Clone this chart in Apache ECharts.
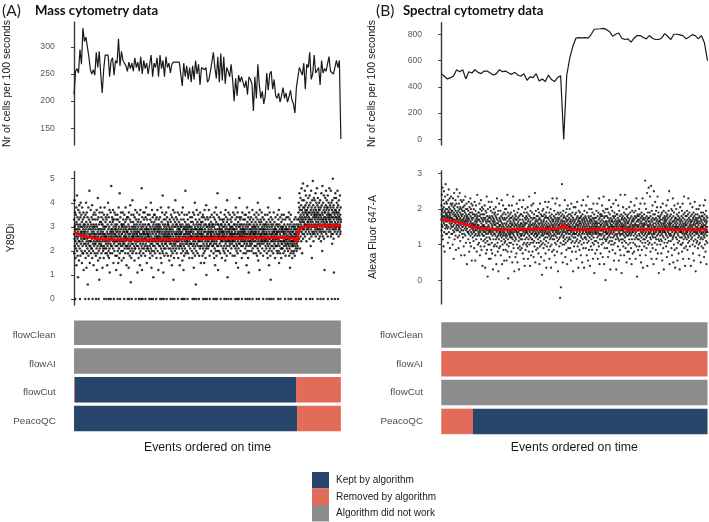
<!DOCTYPE html>
<html><head><meta charset="utf-8">
<script src="https://cdn.jsdelivr.net/npm/echarts@6/dist/echarts.min.js"></script>
<style>html,body{margin:0;padding:0;background:#fff}#c{width:709px;height:522px}</style>
</head><body><div id="c"></div><script>
// ---------- DATA ----------
// Top panels: number of cells per 100 seconds (events ordered on time)
const cellsA = [212,255,260,252,295,268,335,310,318,300,
282,258,250,258,248,290,262,292,250,215,
258,285,287,285,245,275,280,248,275,270,
315,265,292,275,270,265,255,272,260,270,
255,280,262,272,255,282,250,275,260,270,
250,268,285,245,270,262,280,245,285,260,
275,245,282,262,270,252,268,272,270,272,
273,272,274,228,270,245,265,240,262,235,
265,240,275,250,268,230,262,260,258,262,
235,240,255,258,290,262,242,282,235,288,
238,282,232,262,255,245,268,238,200,242,
210,248,235,245,242,225,238,212,245,240,
232,182,245,205,268,230,205,218,195,210,
252,220,250,255,222,240,210,205,215,198,
210,225,205,215,198,208,220,202,195,178,
225,228,262,255,248,270,222,268,262,290,
240,250,285,252,255,262,230,275,252,260,
255,258,282,255,255,250,248,275,262,275,130];
const cellsB = [500,480,460,470,482,530,515,530,460,515,505,530,510,500,520,520,505,490,500,530,
515,520,505,495,510,490,480,500,450,475,470,500,445,460,440,490,455,440,470,485,
0,490,620,710,770,775,772,775,770,800,838,840,842,845,835,820,785,800,810,770,
760,765,740,770,790,790,775,765,790,770,760,760,770,805,785,760,800,800,795,790,
765,780,797,790,765,790,735,600];

// Middle panels: per-event intensities, one string per block of consecutive events.
// Mass: code = Y89Di x 10.  Spectral: code = (Alexa Fluor 647-A + 0.5) x 20
const eventsA = [
"27 33 19 41 25 30 22 36 28 00 24 31 17 29 35 21 26 38 14 32 27 23 43 20 29 34 25 18 31 26 09 28 37 22 30 24 33 16 27 39 29 24 36 21 00 31 27 34 18 26 40 23 30 28 25 35 20 28 32 15 27 38 24 30 22 19 33 26 19 29 36 25 12 31 28 23 34 27 26 30",
"25 31 20 28 00 35 23 17 29 26 40 22 32 13 27 24 36 19 30 25 21 34 28 06 26 31 23 38 18 29 00 24 33 20 27 45 22 30 15 26 26 32 24 22 29 37 24 19 31 27 21 34 21 28 25 39 17 30 26 00 33 23 29 20 35 27 14 31 24 28 30 22 36 26 30 19 27 33 23 25",
"23 29 35 18 26 00 31 24 21 37 27 12 30 25 19 33 22 28 42 24 16 29 26 34 00 20 27 31 23 08 25 36 21 29 17 32 24 27 38 22 28 25 23 32 26 19 34 25 31 29 22 36 27 13 31 24 28 21 20 33 26 30 17 27 35 22 00 29 25 38 21 30 24 26 27 32 19 26 34 23",
"30 21 26 00 33 19 24 28 14 35 25 22 31 27 18 40 23 29 20 34 26 00 17 30 24 37 21 27 11 32 25 19 28 23 36 00 26 22 29 47 25 31 28 27 22 34 19 29 26 33 32 24 37 21 28 15 30 25 00 33 23 27 20 36 26 24 29 24 31 18 27 35 22 29 30 26 12 28 33 24",
"24 18 31 26 22 35 00 28 20 33 25 15 29 23 38 27 21 30 17 26 32 24 44 19 28 00 23 34 26 10 29 22 36 25 20 31 27 16 24 30 27 31 22 30 25 36 20 28 23 33 24 29 17 31 26 00 23 35 28 21 30 26 25 32 19 27 38 24 22 29 22 33 26 14 30 25 28 28 34 21",
"28 22 00 25 34 19 27 31 23 13 29 36 21 26 00 30 24 18 33 27 22 39 25 20 29 07 32 24 17 28 35 23 26 00 21 30 25 41 19 27 23 29 26 32 26 20 35 25 30 28 22 31 27 16 34 24 21 29 21 37 26 30 00 23 28 33 19 25 31 27 27 22 36 24 29 11 26 24 32 28",
"22 30 26 17 33 24 00 28 21 35 25 19 31 27 14 29 23 37 20 26 32 00 24 18 30 27 22 46 25 12 29 34 21 26 00 31 23 28 19 36 30 24 27 27 33 21 28 25 25 36 22 29 18 31 26 00 34 23 27 20 38 29 25 30 24 15 28 33 21 22 29 26 35 27 21 27 31 24 26 29",
"26 20 31 24 00 28 35 22 17 30 25 33 19 27 23 40 21 29 00 26 13 32 24 20 37 28 23 18 30 25 34 00 22 27 09 31 24 29 20 35 25 32 29 28 22 35 26 19 30 24 24 29 33 21 27 00 31 25 17 34 23 26 28 30 26 37 20 29 25 31 23 28 12 24 33 26 22 29 30 27",
"31 25 19 28 34 22 00 26 30 17 24 38 21 29 25 15 32 27 00 23 36 20 28 24 43 19 26 31 22 11 29 25 33 00 27 21 30 18 26 35 28 23 24 31 26 21 33 29 27 23 36 25 19 30 00 28 24 34 22 26 29 26 32 18 31 27 31 24 38 21 25 28 25 30 16 27 26 33 23 29",
"24 29 21 00 32 26 18 35 23 28 20 30 25 14 34 27 22 00 29 19 31 24 37 26 21 08 28 33 23 17 30 25 00 36 22 27 20 32 24 41 23 30 27 26 34 21 28 31 25 31 19 27 24 33 24 29 22 36 00 26 30 17 28 25 24 32 27 21 29 35 25 29 14 26 22 31 23 28 30 27",
"27 22 33 19 25 30 00 24 36 21 28 16 31 26 23 38 00 20 29 25 12 33 27 22 30 18 26 35 24 00 29 21 32 27 45 23 19 30 25 28 26 29 31 24 28 20 35 24 27 23 30 00 25 33 19 29 27 26 31 22 25 28 36 24 17 30 30 25 27 23 21 34 26 28 29 23 32 26 25 28",
"23 30 26 20 34 25 17 29 00 32 22 27 36 24 19 28 31 13 26 23 00 35 21 29 25 40 18 30 24 27 22 33 06 26 29 20 00 31 25 37 29 23 26 27 32 25 19 28 30 26 35 22 24 28 24 31 00 18 27 33 25 29 29 21 36 26 22 24 30 27 15 31 32 25 28 27 22 29 34 26",
"29 24 18 32 26 35 21 00 27 30 23 19 34 25 28 15 31 22 37 26 20 29 00 24 33 17 28 25 31 21 39 26 10 30 23 00 27 34 22 25 24 30 28 26 21 33 27 25 29 24 37 22 31 28 31 25 18 00 30 26 34 23 23 28 25 27 32 20 27 29 26 24 35 26 30 22 31 28 24 25",
"25 31 22 28 00 19 34 26 23 30 17 27 36 24 21 29 33 14 26 00 31 25 20 38 28 23 32 18 27 24 00 35 22 29 26 44 20 31 25 12 27 22 31 26 25 34 28 20 29 30 26 23 33 25 27 19 29 25 00 36 24 28 31 22 31 26 24 29 17 33 25 28 27 30 24 26 21 28 32 26",
"28 20 33 25 30 22 00 27 35 19 26 31 24 16 29 37 23 28 21 34 00 26 30 24 18 32 27 41 22 29 09 25 33 20 28 24 36 00 26 31 25 31 24 29 28 22 35 27 23 30 19 26 33 27 24 29 27 00 21 32 25 30 28 34 23 26 26 30 18 24 27 24 36 29 29 25 22 27 31 27",
"22 29 35 26 18 31 24 28 00 33 21 27 38 25 15 30 23 29 20 34 26 22 00 31 27 19 36 24 28 13 32 25 21 30 00 27 23 34 26 42 28 23 30 26 31 33 25 20 29 24 27 34 22 28 26 25 31 17 00 29 26 36 24 28 30 22 27 25 33 25 19 29 28 31 26 24 23 29 35 27",
"26 33 21 28 24 00 30 19 35 25 27 22 31 14 29 23 38 26 20 32 00 27 24 30 17 34 25 28 22 11 31 26 36 20 29 24 00 33 27 23 24 31 27 26 22 29 34 25 28 28 20 32 26 23 30 24 37 00 27 21 29 25 25 33 28 30 19 31 26 27 24 35 27 22 30 22 28 29 26 32",
"24 30 27 19 34 22 28 36 25 00 31 18 26 29 23 33 21 40 27 24 16 30 25 35 20 28 00 32 23 26 12 29 37 22 27 31 24 19 33 26 29 25 27 32 23 27 36 24 26 30 21 28 25 34 24 29 18 00 31 26 23 29 28 33 25 27 20 30 27 24 24 35 26 31 29 22 31 25 27 24",
"21 28 32 25 00 19 30 26 23 35 27 17 29 24 38 22 31 26 20 33 25 14 28 00 30 23 36 21 27 25 32 18 29 08 26 34 24 00 31 22 26 20 30 24 27 28 33 22 27 25 25 31 19 29 00 24 36 26 21 28 28 23 32 25 26 30 17 29 27 24 34 22 22 29 25 26 31 27 20 28",
"27 22 31 25 35 19 28 24 30 00 23 33 26 20 37 28 15 25 31 22 29 42 24 27 19 34 00 26 30 21 28 24 17 32 26 23 35 29 21 30 23 29 21 33 26 28 24 30 19 28 25 27 35 22 27 31 24 24 20 29 26 00 33 23 28 18 25 25 30 22 29 27 34 24 26 21 29 26 23 25",
"25 31 23 28 20 34 26 00 29 22 36 24 18 30 27 21 33 25 13 28 23 31 26 19 35 24 00 29 27 22 32 20 26 30 24 17 28 23 22 24 28 22 30 19 26 25 31 24 20 29 33 27 23 27 18 30 25 29 22 34 26 21 00 28 24 31 26 20 27 23 24 29 25 33 21 22 26 30 27 24",
"31 36 27 40 00 33 25 38 30 44 28 34 21 37 32 29 42 26 35 31 00 39 24 33 46 30 28 37 34 19 32 41 27 36 30 48 25 33 38 29 35 29 41 32 27 38 31 34 30 45 26 36 31 37 39 33 28 43 30 00 36 24 34 40 29 35 37 31 47 27 35 32 32 38 29 42 30 33 36 30",
"34 28 39 31 25 43 30 36 00 33 27 40 32 22 37 29 45 31 35 26 38 33 17 30 41 28 36 00 32 49 27 34 39 30 24 37 31 42 28 35 30 36 27 41 33 34 38 29 35 44 31 26 30 37 32 40 28 34 36 30 46 35 29 39 00 33 27 42 31 36 32 29 38 34 25 37 40 31 35 28",
"30 37 26 33 41 29 35 00 31 38 24 34 28 44 32 27 39 30 36 20 33 47 29 35 31 26 40 33 00 28 37 32 43 25 34 30 38 12 31 36 36 31 42 28 34 33 39 30 45 33 27 37 32 32 41 29 35 38 31 38 26 43 00 34 30 36 30 28 40 33 35 37 31 46 29 34 35 32 39 30",
"33 28 38 31 45 26 35 30 40 27 34 00 32 37 23 41 29 36 31 50 27 34 38 30 25 39 33 11 36 29 42 31 35 28 00 37 32 44 30 34 31 37 29 42 34 36 30 36 27 40 33 31 38 31 45 28 35 00 32 39 30 34 26 36 41 33 29 29 37 34 30 31 43 30 27 35 28 38 32 33"];
const eventsB = [
"44 52 38 47 58 41 49 35 45 62 40 50 33 46 55 43 48 29 51 42 60 37 46 53 44 26 49 41 57 45 39 48 64 43 50 36 47 54 40 46 47 41 53 36 45 50 39 58 43 48 31 46 55 40 49 44 61 37 51 45 34 48 42 56 47 28 50 43 46 39 53 45 41 57 48 36 44 52 40 49",
"42 49 36 45 53 30 47 40 56 44 38 51 43 22 48 41 59 37 46 50 33 44 52 39 47 42 55 35 49 43 27 46 40 53 38 45 61 41 48 44 45 39 51 34 47 43 57 38 49 41 28 46 53 40 44 35 50 42 59 37 48 45 32 51 43 39 55 41 47 24 44 50 38 46 42 54 36 49 43 40",
"40 47 34 44 51 38 42 55 29 45 41 49 36 43 52 24 46 39 48 42 57 35 44 40 50 31 43 38 47 53 41 45 19 39 46 42 50 37 44 41 43 37 49 33 45 41 54 36 47 40 26 44 51 38 42 31 48 40 56 35 46 43 29 50 41 37 53 39 45 21 42 48 36 44 40 52 34 47 41 38",
"39 45 32 42 50 37 41 28 47 40 54 35 43 38 46 21 41 49 36 44 39 52 33 42 47 40 26 45 38 43 58 35 41 46 39 30 44 40 48 37 41 36 48 31 44 39 53 35 46 38 24 43 50 37 40 29 47 39 55 33 45 42 27 49 40 36 51 38 44 18 41 47 35 43 39 50 32 45 40 37",
"41 35 47 29 38 44 52 33 40 17 45 37 31 49 39 43 25 36 48 42 34 57 38 27 46 40 32 44 12 39 50 36 43 30 41 37 54 45 22 38 40 34 46 30 43 38 51 33 45 37 22 42 49 36 39 27 44 38 54 31 41 46 25 40 35 48 37 43 16 39 45 33 42 38 50 29 44 36 41 47",
"36 43 30 48 39 24 41 35 46 51 33 38 42 19 45 37 29 40 56 34 44 39 31 47 26 42 38 35 49 15 43 36 40 33 53 28 41 45 37 39 37 44 29 41 35 49 38 24 43 36 46 32 40 55 34 42 19 39 45 37 30 47 41 35 52 38 27 44 36 40 33 48 21 42 37 45 31 39 50 35",
"44 32 39 47 27 41 36 50 34 42 21 38 45 30 40 35 58 43 26 37 48 33 39 11 46 41 29 36 52 38 44 31 40 23 47 35 42 37 34 45 43 36 40 31 48 38 26 45 41 34 52 37 42 20 39 46 33 41 36 57 30 44 38 28 43 35 49 40 15 37 45 32 42 39 47 34 23 41 38 44",
"38 46 33 41 25 44 37 53 30 40 36 48 20 42 35 39 45 28 43 37 50 32 41 16 38 46 34 40 55 29 44 36 39 27 47 41 33 42 38 35 39 47 35 42 28 40 36 51 33 44 38 25 46 41 30 39 55 37 43 22 40 35 48 31 42 38 18 45 36 41 33 50 39 27 44 37 42 30 46 38",
"42 34 48 37 29 45 39 31 51 36 43 22 40 47 33 38 44 26 41 35 57 39 30 46 37 42 18 40 34 49 43 31 38 45 24 41 36 52 39 33 36 41 48 33 39 26 44 37 42 31 53 38 45 23 40 35 47 32 41 38 29 45 36 59 39 42 20 43 37 34 49 40 27 44 36 41 31 46 38 35",
"35 43 39 28 46 40 33 50 37 42 25 44 36 31 48 39 41 19 45 34 38 53 29 42 37 44 32 40 47 23 39 35 43 30 46 38 13 41 36 49 42 37 31 46 40 35 50 28 43 38 44 33 21 41 47 36 39 30 45 37 54 34 42 25 40 46 38 32 48 17 43 36 41 29 45 39 34 51 37 40",
"40 36 45 31 42 38 54 27 44 35 39 48 22 41 37 33 46 40 29 43 36 50 34 39 17 45 38 42 30 47 35 41 26 44 39 56 33 40 37 43 38 44 35 41 27 46 39 33 49 36 42 24 40 45 31 38 53 35 43 20 41 37 47 30 44 39 34 56 38 26 42 36 45 32 40 48 15 43 37 41",
"38 44 33 47 41 36 29 45 39 52 34 42 00 40 37 48 31 43 06 39 46 35 41 25 44 38 64 36 42 30 47 40 20 43 37 34 49 39 45 32 41 35 46 38 30 43 40 55 33 42 37 23 45 39 48 31 41 36 44 27 40 50 34 43 38 19 46 37 41 32 52 39 44 28 42 36 47 33 40 38",
"39 45 34 41 50 36 43 28 40 47 33 38 44 21 42 37 53 31 40 46 35 39 26 43 38 48 32 41 36 45 15 39 44 34 51 37 42 29 40 36 36 43 39 31 47 40 34 51 38 44 26 41 36 48 32 42 22 45 39 37 54 33 41 46 29 40 35 43 38 17 44 39 31 49 41 36 45 27 42 38",
"43 37 48 32 40 45 35 42 24 39 46 34 41 52 30 38 44 36 20 43 39 47 33 40 37 55 28 42 38 45 31 41 17 44 36 49 39 34 43 38 40 46 34 42 38 28 45 37 52 33 41 39 24 44 36 48 31 40 43 35 57 38 21 42 37 46 32 41 39 27 45 36 50 34 43 40 18 38 44 37",
"36 42 39 29 46 38 44 33 50 40 35 43 27 41 37 48 31 39 45 22 42 36 53 34 40 44 30 38 47 14 41 37 43 32 45 39 25 42 36 40 42 37 45 32 40 49 36 43 27 41 38 53 34 39 46 22 42 37 31 48 40 35 44 29 39 56 36 42 19 45 38 33 47 40 36 43 25 41 38 46",
"41 35 47 38 30 44 39 52 33 42 36 46 23 40 38 49 31 43 37 57 34 41 19 45 39 35 48 28 42 40 33 46 37 10 43 38 50 32 41 36 37 43 33 46 39 28 42 36 50 34 41 45 23 40 37 48 31 43 39 35 55 38 26 44 40 32 47 36 42 16 39 45 34 41 37 51 30 43 38 40",
"38 44 32 41 49 36 43 27 40 46 34 39 53 30 42 37 45 21 40 35 48 38 43 31 46 39 25 41 36 44 33 55 38 42 16 40 47 35 39 43 41 36 47 34 39 45 29 42 38 52 33 40 44 21 43 37 49 32 41 36 46 27 39 43 35 58 38 24 42 40 33 47 36 44 14 41 38 45 31 40",
"42 36 46 33 40 51 38 29 44 37 41 35 48 24 43 39 32 45 40 58 34 42 37 47 28 41 36 44 31 39 50 20 43 38 35 46 40 26 42 37 39 45 35 42 30 47 38 43 26 40 36 51 33 44 39 22 41 37 48 31 45 40 35 54 38 28 42 36 46 19 43 39 33 49 41 37 44 25 40 38",
"37 43 31 45 39 35 48 41 26 44 38 52 33 40 46 30 42 36 49 22 41 37 45 34 39 56 29 43 38 41 12 46 35 40 33 47 38 44 27 40 43 38 46 33 41 36 50 29 44 39 35 47 24 42 38 53 32 40 45 37 20 43 39 34 48 41 27 46 36 42 31 56 38 44 17 40 37 45 33 41",
"40 35 47 42 29 44 38 53 33 41 36 66 31 45 39 24 43 37 50 34 42 28 46 39 35 59 41 18 44 38 32 48 40 36 45 30 43 62 37 41 40 45 36 43 31 48 39 57 34 42 37 26 46 41 33 63 38 44 22 40 36 49 30 43 39 35 52 28 45 38 41 34 47 19 42 37 60 40 36 44",
"36 44 39 31 47 40 54 34 42 38 27 45 37 49 33 41 22 43 39 35 51 30 44 38 57 40 25 46 36 42 33 48 39 14 43 37 41 32 45 38 38 43 35 46 40 30 44 37 51 33 42 39 25 47 36 41 32 48 38 21 44 40 35 53 37 42 28 45 39 34 49 16 41 38 43 31 46 37 40 44",
"42 37 45 33 40 48 36 43 29 41 52 35 39 46 23 44 38 31 47 40 55 34 42 37 26 45 39 49 32 41 36 60 38 43 19 40 46 35 42 39 41 36 44 32 47 39 35 50 28 42 38 45 24 40 37 49 33 43 39 56 34 41 20 46 38 35 43 30 48 40 36 52 27 44 39 42 17 37 45 40",
"38 45 34 41 50 37 43 28 40 47 33 39 44 21 42 36 53 31 40 46 35 38 25 44 39 48 32 41 37 45 16 39 43 34 51 38 42 30 40 37 37 44 39 30 46 41 34 49 26 43 38 36 53 31 40 45 22 42 37 47 33 41 39 57 35 28 44 40 36 48 18 42 38 34 46 39 43 29 41 37",
"41 36 46 33 39 49 37 44 27 42 38 35 47 31 40 56 34 43 38 22 45 39 32 48 41 36 44 29 40 53 37 42 35 46 18 39 43 33 41 38 43 38 47 34 40 36 51 30 44 39 25 45 41 37 48 32 42 21 39 46 35 43 38 54 29 41 37 44 33 47 15 40 45 36 42 38 50 31 39 43",
"37 44 32 40 47 36 42 28 39 45 34 41 50 30 38 43 35 24 46 39 37 52 31 42 38 45 33 40 20 44 36 48 39 34 43 29 41 37 46 40 39 46 36 42 33 48 40 28 44 37 52 35 41 23 45 39 34 47 38 43 30 55 36 41 26 44 40 37 49 32 42 19 46 38 35 43 40 31 45 37"];

// Running median (red line): [fraction of events, value]
const medianA = [[0,2.78],[0.02,2.68],[0.04,2.6],[0.06,2.56],[0.08,2.52],[0.1,2.5],[0.12,2.48],[0.15,2.46],[0.18,2.47],[0.2,2.44],[0.23,2.47],[0.25,2.44],[0.28,2.46],[0.3,2.44],[0.33,2.47],[0.35,2.45],[0.38,2.48],[0.4,2.47],[0.42,2.52],[0.44,2.5],[0.47,2.52],[0.5,2.5],[0.53,2.53],[0.56,2.51],[0.6,2.53],[0.63,2.52],[0.66,2.55],[0.69,2.53],[0.72,2.57],[0.75,2.55],[0.78,2.56],[0.81,2.54],[0.83,2.5],[0.835,2.36],[0.84,2.78],[0.845,2.92],[0.86,2.98],[0.88,3.05],[0.9,3.03],[0.93,3.06],[0.96,3.04],[0.98,3.07],[1,3.02]];
const medianB = [[0,1.72],[0.03,1.68],[0.06,1.63],[0.09,1.57],[0.12,1.5],[0.15,1.46],[0.18,1.44],[0.21,1.43],[0.25,1.42],[0.29,1.44],[0.33,1.43],[0.37,1.45],[0.41,1.44],[0.45,1.46],[0.46,1.58],[0.47,1.46],[0.5,1.42],[0.53,1.43],[0.57,1.41],[0.61,1.44],[0.64,1.42],[0.68,1.45],[0.72,1.41],[0.76,1.43],[0.8,1.42],[0.84,1.44],[0.88,1.41],[0.92,1.43],[0.96,1.42],[1,1.44]];

// Bottom panels: algorithm decisions along the event order [status, fraction]
const algorithms = ['flowClean','flowAI','flowCut','PeacoQC'];
const decisionsA = {flowClean:[['none',1]], flowAI:[['none',1]], flowCut:[['removed',0.003],['kept',0.829],['removed',0.168]], PeacoQC:[['kept',0.836],['removed',0.164]]};
const decisionsB = {flowClean:[['none',1]], flowAI:[['removed',1]], flowCut:[['none',1]], PeacoQC:[['removed',0.119],['kept',0.881]]};
const statusNames = {kept:'Kept by algorithm', removed:'Removed by algorithm', none:'Algorithm did not work'};
const statusColors = {kept:'#27456b', removed:'#e26b5a', none:'#8c8c8c'};

const ticksTopA = [150,200,250,300], ticksMidA = [0,1,2,3,4,5];
const ticksTopB = [0,200,400,600,800], ticksMidB = [0,1,2,3];

// ---------- BUILD ----------
const FONT = 'Liberation Sans, Arial, sans-serif';
const decodeA = eventsA.join(' ').trim().split(/\s+/).map(s => Number(s) / 10);
const decodeB = eventsB.join(' ').trim().split(/\s+/).map(s => Number(s) / 20 - 0.5);
const ordered = arr => arr.map((v, i) => [i / (arr.length - 1), v]);

// panel A spans the full expanded range; panel B is cut at the right edge of the figure
const grids = [
  {left:60.7, top:22, width:293.5, height:123},
  {left:60.7, top:171.5, width:293.5, height:133.5},
  {left:60.7, top:320.6, width:293.5, height:115.2},
  {left:428, top:22.7, width:281, height:122.3},
  {left:428, top:171, width:281, height:133},
  {left:428, top:320.6, width:281, height:115.2}
];
const xMaxA = 1.05, xMaxB = 1.0056;
const xAxes = grids.map((g, i) => ({type:'value', gridIndex:i, min:-0.05, max: i < 3 ? xMaxA : xMaxB, show:false}));
function valAxis(i, min, max, ticks) {
  return {type:'value', gridIndex:i, min:min, max:max,
    axisLine:{show:true, lineStyle:{color:'#3a3a3a', width:1.4}},
    axisTick:{show:true, length:3, customValues:ticks, lineStyle:{color:'#3a3a3a', width:1}},
    axisLabel:{customValues:ticks, margin:6, fontFamily:FONT, fontSize:8.6, color:'#5a5a5a'},
    splitLine:{show:false}};
}
function catAxis(i) {
  return {type:'category', gridIndex:i, data:algorithms, inverse:true,
    axisLine:{show:false}, axisTick:{show:false},
    axisLabel:{margin:5, fontFamily:FONT, fontSize:9.8, color:'#4d4d4d'}};
}
const yAxes = [valAxis(0,119,346,ticksTopA), valAxis(1,-0.25,5.3,ticksMidA), catAxis(2),
               valAxis(3,-43,888,ticksTopB), valAxis(4,-0.67,3.07,ticksMidB), catAxis(5)];

const series = [];
series.push({type:'line', xAxisIndex:0, yAxisIndex:0, data:ordered(cellsA), symbol:'none', lineStyle:{color:'#1a1a1a', width:1.2}});
series.push({type:'line', xAxisIndex:3, yAxisIndex:3, data:ordered(cellsB), symbol:'none', lineStyle:{color:'#1a1a1a', width:1.2}});
series.push({type:'scatter', xAxisIndex:1, yAxisIndex:1, data:ordered(decodeA), symbolSize:2.5, itemStyle:{color:'#000'}, large:false});
series.push({type:'scatter', xAxisIndex:4, yAxisIndex:4, data:ordered(decodeB), symbolSize:2.3, itemStyle:{color:'#000'}, large:false});
series.push({type:'line', xAxisIndex:1, yAxisIndex:1, data:medianA, symbol:'none', z:5, lineStyle:{color:'#ff0000', width:2.6}});
series.push({type:'line', xAxisIndex:4, yAxisIndex:4, data:medianB, symbol:'none', z:5, lineStyle:{color:'#ff0000', width:2.6}});

function addBars(decisions, axisIdx, stackName) {
  const maxSeg = Math.max(...algorithms.map(a => decisions[a].length));
  for (let s = 0; s < maxSeg; s++) {
    series.push({type:'bar', xAxisIndex:axisIdx, yAxisIndex:axisIdx, stack:stackName, barWidth:25.5,
      data: algorithms.map(a => {
        const seg = decisions[a][s];
        return seg ? {value:seg[1], itemStyle:{color:statusColors[seg[0]]}} : '-';
      })});
  }
}
addBars(decisionsA, 2, 'A');
addBars(decisionsB, 5, 'B');
// legend entries
['kept','removed','none'].forEach(k => series.push({type:'bar', name:statusNames[k], xAxisIndex:2, yAxisIndex:2, data:[], itemStyle:{color:statusColors[k]}}));

function vtext(x, y, t, size) {
  return {type:'text', x:x, y:y, rotation:Math.PI/2, silent:true,
    style:{text:t, fontFamily:FONT, fontSize:size, fill:'#1a1a1a', align:'center', verticalAlign:'middle'}};
}
function htext(x, y, t, size) {
  return {type:'text', x:x, y:y, silent:true,
    style:{text:t, fontFamily:FONT, fontSize:size, fill:'#1a1a1a', align:'center', verticalAlign:'middle'}};
}
const graphic = [
  {type:'text', x:2, y:11, style:{text:'(A)', fontFamily:'Lato, sans-serif', fontSize:15.5, fill:'#1a1a1a', verticalAlign:'middle'}},
  {type:'text', x:35, y:11, style:{text:'Mass cytometry data', fontFamily:'Lato, sans-serif', fontWeight:'bold', fontSize:13.2, fill:'#111', verticalAlign:'middle'}},
  {type:'text', x:376, y:11, style:{text:'(B)', fontFamily:'Lato, sans-serif', fontSize:15.5, fill:'#1a1a1a', verticalAlign:'middle'}},
  {type:'text', x:403, y:11, style:{text:'Spectral cytometry data', fontFamily:'Lato, sans-serif', fontWeight:'bold', fontSize:13.2, fill:'#111', verticalAlign:'middle'}},
  vtext(7, 83.5, 'Nr of cells per 100 seconds', 10.5),
  vtext(372, 83.5, 'Nr of cells per 100 seconds', 10.5),
  vtext(11, 238, 'Y89Di', 10.5),
  vtext(373, 237, 'Alexa Fluor 647-A', 10.5),
  htext(207.5, 448, 'Events ordered on time', 12.3),
  htext(574.3, 448, 'Events ordered on time', 12.3)
];

const chart = echarts.init(document.getElementById('c'), null, {renderer:'canvas'});
chart.setOption({
  animation:false,
  grid:grids, xAxis:xAxes, yAxis:yAxes, series:series, graphic:graphic,
  legend:{data:[statusNames.kept, statusNames.removed, statusNames.none], orient:'vertical', left:312, top:472,
    itemWidth:17, itemHeight:16.5, itemGap:0, padding:0, icon:'rect', selectedMode:false,
    textStyle:{fontFamily:FONT, fontSize:10, color:'#1a1a1a', padding:[0,0,0,2]}}
});
</script></body></html>
